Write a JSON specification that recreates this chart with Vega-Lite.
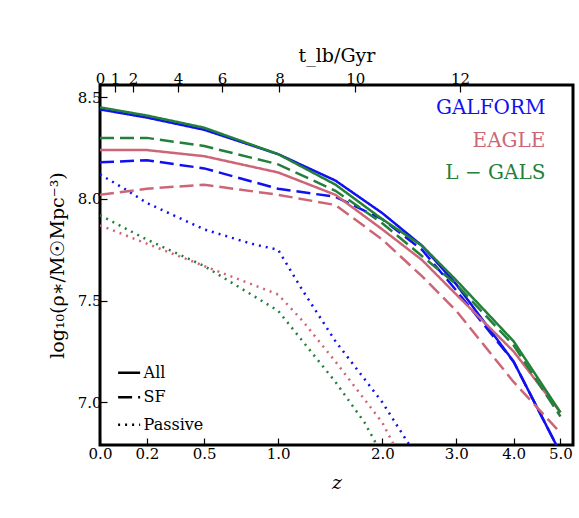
{
"$schema":"https://vega.github.io/schema/vega-lite/v6.json",
"width":473,"height":360,"autosize":"none",
"padding":{"left":100,"top":85,"right":6,"bottom":73},
"config":{"font":"DejaVu Serif","view":{"stroke":"black","strokeWidth":3},
"axis":{"domain":false,"grid":false,"labelFlush":false,"tickColor":"black","tickSize":-7,"tickWidth":1.2,"labelFont":"DejaVu Serif","labelFontSize":15,"labelColor":"black","titleFont":"DejaVu Serif","titleFontWeight":"normal","titleFontSize":19,"titleColor":"black"}},
"datasets":{
"curves":[
{"m":"GALFORM","t":"All","opz":1,"y":8.44},{"m":"GALFORM","t":"All","opz":1.2,"y":8.40},{"m":"GALFORM","t":"All","opz":1.5,"y":8.34},{"m":"GALFORM","t":"All","opz":2,"y":8.22},{"m":"GALFORM","t":"All","opz":2.5,"y":8.09},{"m":"GALFORM","t":"All","opz":3,"y":7.93},{"m":"GALFORM","t":"All","opz":3.5,"y":7.77},{"m":"GALFORM","t":"All","opz":4,"y":7.58},{"m":"GALFORM","t":"All","opz":5,"y":7.2},{"m":"GALFORM","t":"All","opz":6,"y":6.75},
{"m":"GALFORM","t":"SF","opz":1,"y":8.18},{"m":"GALFORM","t":"SF","opz":1.2,"y":8.19},{"m":"GALFORM","t":"SF","opz":1.5,"y":8.15},{"m":"GALFORM","t":"SF","opz":2,"y":8.05},{"m":"GALFORM","t":"SF","opz":2.5,"y":8.01},{"m":"GALFORM","t":"SF","opz":3,"y":7.9},{"m":"GALFORM","t":"SF","opz":3.5,"y":7.75},{"m":"GALFORM","t":"SF","opz":4,"y":7.55},{"m":"GALFORM","t":"SF","opz":5,"y":7.2},{"m":"GALFORM","t":"SF","opz":6,"y":6.75},
{"m":"GALFORM","t":"Passive","opz":1,"y":8.12},{"m":"GALFORM","t":"Passive","opz":1.1,"y":8.05},{"m":"GALFORM","t":"Passive","opz":1.2,"y":7.98},{"m":"GALFORM","t":"Passive","opz":1.5,"y":7.85},{"m":"GALFORM","t":"Passive","opz":1.8,"y":7.78},{"m":"GALFORM","t":"Passive","opz":2,"y":7.75},{"m":"GALFORM","t":"Passive","opz":2.2,"y":7.55},{"m":"GALFORM","t":"Passive","opz":2.5,"y":7.3},{"m":"GALFORM","t":"Passive","opz":3,"y":7.0},{"m":"GALFORM","t":"Passive","opz":3.35,"y":6.78},
{"m":"EAGLE","t":"All","opz":1,"y":8.24},{"m":"EAGLE","t":"All","opz":1.2,"y":8.24},{"m":"EAGLE","t":"All","opz":1.5,"y":8.21},{"m":"EAGLE","t":"All","opz":2,"y":8.13},{"m":"EAGLE","t":"All","opz":2.5,"y":8.02},{"m":"EAGLE","t":"All","opz":3,"y":7.85},{"m":"EAGLE","t":"All","opz":3.5,"y":7.7},{"m":"EAGLE","t":"All","opz":4,"y":7.53},{"m":"EAGLE","t":"All","opz":5,"y":7.25},{"m":"EAGLE","t":"All","opz":6,"y":6.95},
{"m":"EAGLE","t":"SF","opz":1,"y":8.02},{"m":"EAGLE","t":"SF","opz":1.2,"y":8.05},{"m":"EAGLE","t":"SF","opz":1.5,"y":8.07},{"m":"EAGLE","t":"SF","opz":2,"y":8.02},{"m":"EAGLE","t":"SF","opz":2.5,"y":7.97},{"m":"EAGLE","t":"SF","opz":3,"y":7.8},{"m":"EAGLE","t":"SF","opz":3.5,"y":7.62},{"m":"EAGLE","t":"SF","opz":4,"y":7.45},{"m":"EAGLE","t":"SF","opz":5,"y":7.1},{"m":"EAGLE","t":"SF","opz":6,"y":6.85},
{"m":"EAGLE","t":"Passive","opz":1,"y":7.87},{"m":"EAGLE","t":"Passive","opz":1.2,"y":7.78},{"m":"EAGLE","t":"Passive","opz":1.5,"y":7.67},{"m":"EAGLE","t":"Passive","opz":2,"y":7.53},{"m":"EAGLE","t":"Passive","opz":2.2,"y":7.4},{"m":"EAGLE","t":"Passive","opz":2.5,"y":7.2},{"m":"EAGLE","t":"Passive","opz":3,"y":6.9},{"m":"EAGLE","t":"Passive","opz":3.15,"y":6.78},
{"m":"L-GALS","t":"All","opz":1,"y":8.45},{"m":"L-GALS","t":"All","opz":1.2,"y":8.41},{"m":"L-GALS","t":"All","opz":1.5,"y":8.35},{"m":"L-GALS","t":"All","opz":2,"y":8.22},{"m":"L-GALS","t":"All","opz":2.5,"y":8.07},{"m":"L-GALS","t":"All","opz":3,"y":7.9},{"m":"L-GALS","t":"All","opz":3.5,"y":7.77},{"m":"L-GALS","t":"All","opz":4,"y":7.6},{"m":"L-GALS","t":"All","opz":5,"y":7.3},{"m":"L-GALS","t":"All","opz":6,"y":6.95},
{"m":"L-GALS","t":"SF","opz":1,"y":8.3},{"m":"L-GALS","t":"SF","opz":1.2,"y":8.3},{"m":"L-GALS","t":"SF","opz":1.5,"y":8.26},{"m":"L-GALS","t":"SF","opz":2,"y":8.17},{"m":"L-GALS","t":"SF","opz":2.5,"y":8.04},{"m":"L-GALS","t":"SF","opz":3,"y":7.88},{"m":"L-GALS","t":"SF","opz":4,"y":7.58},{"m":"L-GALS","t":"SF","opz":5,"y":7.28},{"m":"L-GALS","t":"SF","opz":6,"y":6.93},
{"m":"L-GALS","t":"Passive","opz":1,"y":7.92},{"m":"L-GALS","t":"Passive","opz":1.2,"y":7.8},{"m":"L-GALS","t":"Passive","opz":1.5,"y":7.67},{"m":"L-GALS","t":"Passive","opz":2,"y":7.45},{"m":"L-GALS","t":"Passive","opz":2.5,"y":7.1},{"m":"L-GALS","t":"Passive","opz":2.8,"y":6.9},{"m":"L-GALS","t":"Passive","opz":2.95,"y":6.78}
],
"names":[{"m":"GALFORM","label":"GALFORM","opz":5.66,"y":8.445},{"m":"EAGLE","label":"EAGLE","opz":5.66,"y":8.285},{"m":"L-GALS","label":"L − GALS","opz":5.66,"y":8.125}],
"keylines":[{"t":"All","opz":1.073,"y":7.145},{"t":"All","opz":1.169,"y":7.145},{"t":"SF","opz":1.073,"y":7.025},{"t":"SF","opz":1.169,"y":7.025},{"t":"Passive","opz":1.073,"y":6.89},{"t":"Passive","opz":1.169,"y":6.89}],
"keytext":[{"t":"All","opz":1.185,"y":7.145},{"t":"SF","opz":1.185,"y":7.025},{"t":"Passive","opz":1.185,"y":6.89}]
},
"resolve":{"axis":{"x":"independent"}},
"layer":[
{"data":{"name":"curves"},"mark":{"type":"line","strokeWidth":2.5,"clip":true},
"encoding":{
"x":{"field":"opz","type":"quantitative","scale":{"type":"log","domain":[1,6.3],"nice":false,"zero":false},
"axis":{"values":[1,1.2,1.5,2,3,4,5,6],"labelExpr":"format(datum.value-1,'.1f')","title":"z","titleFontStyle":"italic","titlePadding":12,"labelPadding":8}},
"y":{"field":"y","type":"quantitative","scale":{"domain":[6.79,8.56],"nice":false,"zero":false},
"axis":{"values":[7.0,7.5,8.0,8.5],"format":".1f","title":"log₁₀(ρ∗/M☉Mpc⁻³)","titlePadding":10,"labelPadding":6}},
"color":{"field":"m","type":"nominal","scale":{"domain":["GALFORM","EAGLE","L-GALS"],"range":["#1010f0","#cc6677","#22803a"]},"legend":null},
"strokeDash":{"field":"t","type":"nominal","scale":{"domain":["All","SF","Passive"],"range":[[1,0],[14,6],[2,5]]},"legend":null},
"detail":{"field":"t"}}},
{"data":{"name":"curves"},"mark":{"type":"point","opacity":0},
"encoding":{
"x":{"field":"opz","type":"quantitative",
"axis":{"orient":"top","values":[1,1.06,1.137,1.355,1.608,2.01,2.7,4.06],"labelExpr":"['0','1','2','4','6','8','10','12'][indexof([1,1.06,1.137,1.355,1.608,2.01,2.7,4.06],datum.value)]","title":"t_lb/Gyr","titlePadding":6,"labelPadding":6}},
"y":{"field":"y","type":"quantitative"}}},
{"data":{"name":"names"},"mark":{"type":"text","align":"right","baseline":"middle","fontSize":20},
"encoding":{"x":{"field":"opz","type":"quantitative","axis":null},"y":{"field":"y","type":"quantitative"},"text":{"field":"label"},
"color":{"field":"m","type":"nominal","legend":null}}},
{"data":{"name":"keylines"},"mark":{"type":"line","strokeWidth":2.5,"color":"black"},
"encoding":{"x":{"field":"opz","type":"quantitative","axis":null},"y":{"field":"y","type":"quantitative"},"detail":{"field":"t"},
"strokeDash":{"field":"t","type":"nominal","legend":null}}},
{"data":{"name":"keytext"},"mark":{"type":"text","align":"left","baseline":"middle","fontSize":16,"color":"black"},
"encoding":{"x":{"field":"opz","type":"quantitative","axis":null},"y":{"field":"y","type":"quantitative"},"text":{"field":"t"}}}
]
}
